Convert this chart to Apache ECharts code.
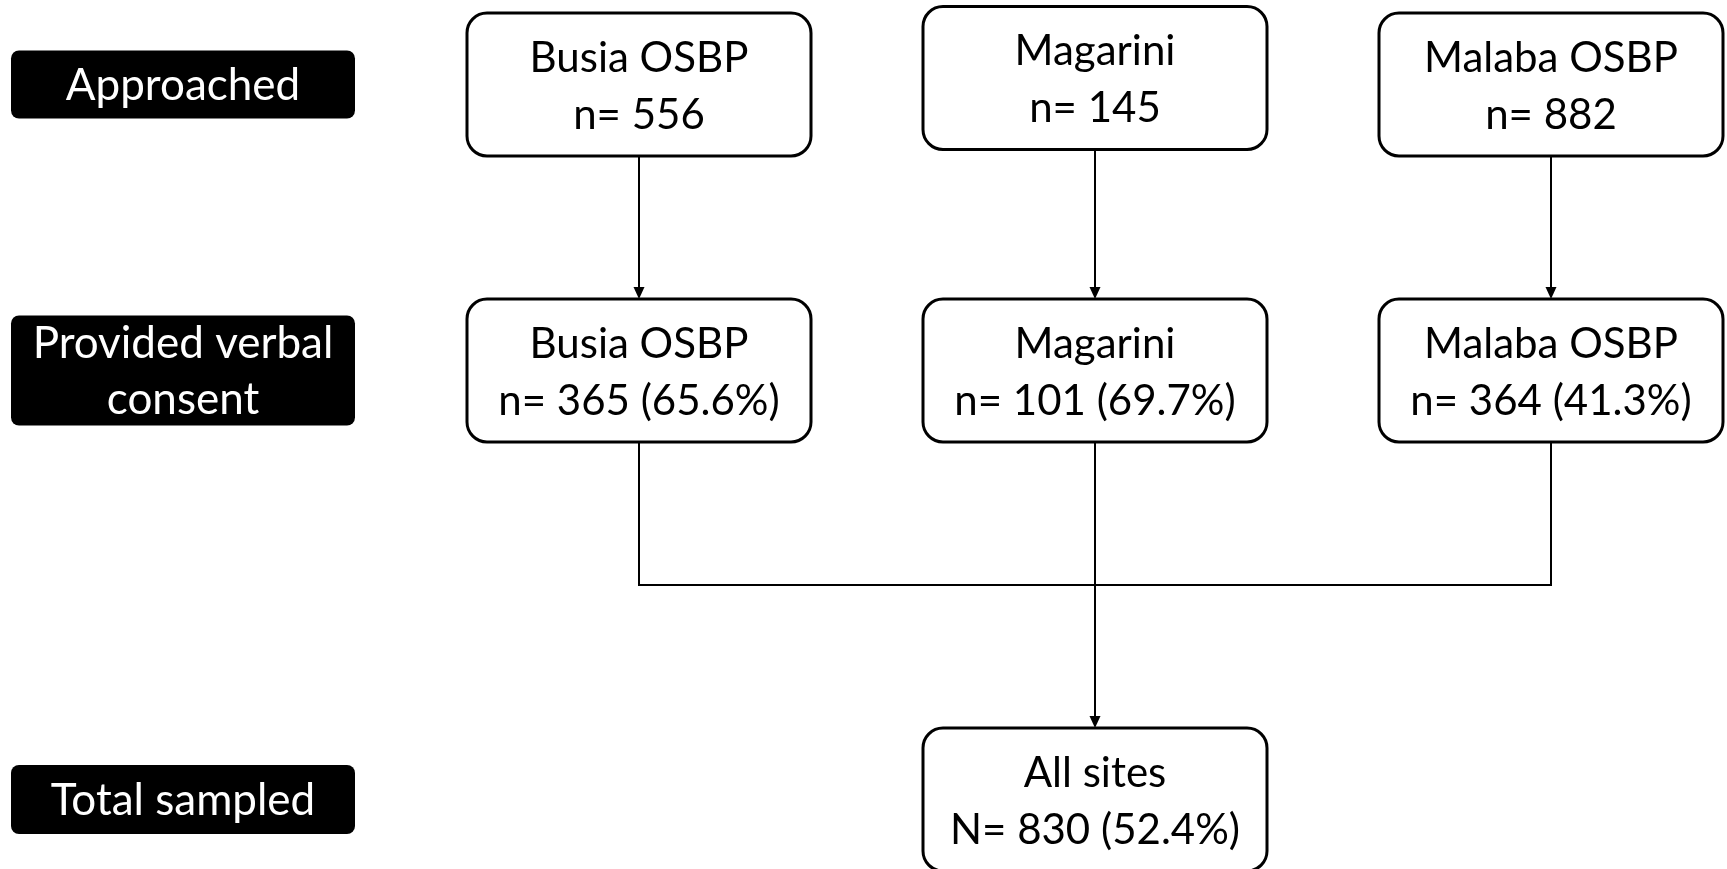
<!DOCTYPE html>
<html><head><meta charset="utf-8">
<script src="https://cdn.jsdelivr.net/npm/echarts@6/dist/echarts.min.js"></script>
<style>html,body{margin:0;padding:0;background:#fff}#chart{width:1727px;height:869px}</style>
</head><body><div id="chart"></div>
<script>
// ---- data ----
const stages = ['Approached', 'Provided verbal\nconsent', 'Total sampled'];
const sites = ['Busia OSBP', 'Magarini', 'Malaba OSBP'];
const approached = [556, 145, 882];
const consented = [365, 101, 364];
const consentedPct = ['65.6%', '69.7%', '41.3%'];
const totalLabel = 'All sites';
const totalSampled = 830;
const totalPct = '52.4%';

// ---- layout (positions / styles) ----
const FONT_FAMILY = 'Lato, "Noto Sans", sans-serif';
const FS = 42;
const FS_LABEL = 44;
const stageLevel = [0, 1, 2.5];
const junctionLevel = 1.75;
const BW = 344, BH = 143, BR = 20;
const LW = 344, LR = 8;
const labelHeights = [68, 110, 69];
const rowShift = [0, -6.5, 0]; // small vertical offset of first-row boxes

const boxes = [];
sites.forEach((s, i) => {
  boxes.push({ col: i + 1, level: stageLevel[0], dy: rowShift[i], text: s + '\nn= ' + approached[i] });
  boxes.push({ col: i + 1, level: stageLevel[1], dy: 0, text: s + '\nn= ' + consented[i] + ' (' + consentedPct[i] + ')' });
});
boxes.push({ col: 2, level: stageLevel[2], dy: 0, text: totalLabel + '\nN= ' + totalSampled + ' (' + totalPct + ')' });

const HH = BH / 2;
const links = [];
sites.forEach((s, i) => {
  const c = i + 1;
  links.push({ pts: [[c, stageLevel[0], rowShift[i] + HH], [c, stageLevel[1], -HH]], arrow: true });
});
links.push({ pts: [[1, stageLevel[1], HH], [1, junctionLevel, 0], [3, junctionLevel, 0], [3, stageLevel[1], HH]], arrow: false });
links.push({ pts: [[2, stageLevel[1], HH], [2, stageLevel[2], -HH]], arrow: true });

const chart = echarts.init(document.getElementById('chart'), null, { renderer: 'canvas' });
chart.setOption({
  animation: false,
  backgroundColor: '#fff',
  grid: { left: 183, right: 176, top: 84.5, bottom: 869 - 799.5 },
  xAxis: { type: 'value', min: 0, max: 3, show: false },
  yAxis: { type: 'value', min: 0, max: 2.5, inverse: true, show: false },
  series: [
    {
      type: 'custom', name: 'links', silent: true,
      data: links.map((l, i) => [l.pts[0][0], l.pts[0][1], i]),
      renderItem: (params, api) => {
        const l = links[params.dataIndex];
        const pts = l.pts.map(p => { const c = api.coord([p[0], p[1]]); return [c[0], c[1] + p[2]]; });
        const children = [];
        const linePts = pts.map(p => p.slice());
        if (l.arrow) {
          const last = linePts[linePts.length - 1];
          last[1] -= 10;
        }
        children.push({ type: 'polyline', shape: { points: linePts }, style: { stroke: '#000', lineWidth: 2, fill: null, lineJoin: 'miter' } });
        if (l.arrow) {
          const t = pts[pts.length - 1];
          children.push({ type: 'polygon', shape: { points: [[t[0], t[1]], [t[0] - 5.5, t[1] - 12], [t[0] + 5.5, t[1] - 12]] }, style: { fill: '#000' } });
        }
        return { type: 'group', children };
      }
    },
    {
      type: 'custom', name: 'stages', silent: true,
      data: stages.map((s, i) => [0, stageLevel[i]]),
      renderItem: (params, api) => {
        const c = api.coord([api.value(0), api.value(1)]);
        const h = labelHeights[params.dataIndex];
        return { type: 'group', children: [
          { type: 'rect', shape: { x: c[0] - LW / 2, y: c[1] - h / 2, width: LW, height: h, r: LR }, style: { fill: '#000' } },
          { type: 'text', style: { text: stages[params.dataIndex], x: c[0], y: c[1] + 1, align: 'center', verticalAlign: 'middle', fontFamily: FONT_FAMILY, fontSize: FS_LABEL, lineHeight: 56, fill: '#fff' } }
        ] };
      }
    },
    {
      type: 'custom', name: 'boxes', silent: true,
      data: boxes.map(b => [b.col, b.level]),
      renderItem: (params, api) => {
        const b = boxes[params.dataIndex];
        const c = api.coord([api.value(0), api.value(1)]);
        const cx = c[0], cy = c[1] + b.dy;
        return { type: 'group', children: [
          { type: 'rect', shape: { x: cx - BW / 2, y: cy - BH / 2, width: BW, height: BH, r: BR }, style: { fill: '#fff', stroke: '#000', lineWidth: 3 } },
          { type: 'text', style: { text: b.text, x: cx, y: cy + 2, align: 'center', verticalAlign: 'middle', fontFamily: FONT_FAMILY, fontSize: FS, lineHeight: 57, fill: '#000' } }
        ] };
      }
    }
  ]
});
</script>
</body></html>
